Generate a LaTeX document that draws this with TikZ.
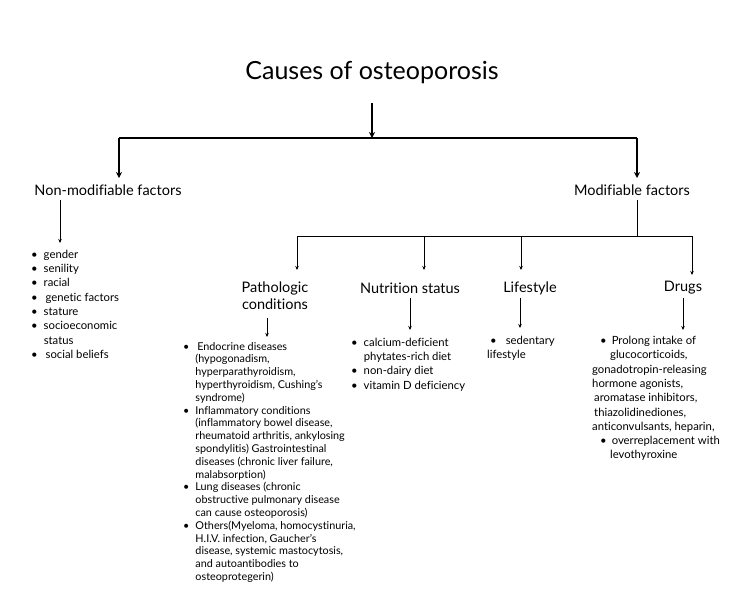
\documentclass[tikz,border=0pt]{standalone}
\usepackage{fontspec}
\setmainfont[Ligatures=NoCommon]{Lato}
\usetikzlibrary{arrows.meta}
\newcommand{\bl}{\textbullet}
\begin{document}
\begin{tikzpicture}[x=1pt,y=-1pt,
  thickarr/.style={line width=2.2pt,-{Stealth[length=6pt,width=6pt]}},
  thickln/.style={line width=2.2pt},
  thinarr/.style={line width=0.9pt,-{Stealth[length=4pt,width=3.5pt]}},
  thinln/.style={line width=0.9pt},
  hdr/.style={font=\fontsize{14.5}{17}\selectfont,inner sep=0pt},
  lst/.style={font=\fontsize{11.3}{14.3}\selectfont,inner sep=0pt,anchor=north west,align=left}]
\useasboundingbox (0,0) rectangle (750,600);
\fill[white] (0,0) rectangle (750,600);
\node[font=\fontsize{25}{30}\selectfont,inner sep=0pt] (title) at (372,73) {Causes of osteoporosis};
\coordinate (t1) at (372,103);
\coordinate (t2) at (372,138);
\coordinate (hl) at (119,138);
\coordinate (hr) at (637,138);
\draw[thickarr] (t1) -- (t2);
\draw[thickln] (hl) -- (hr);
\node[hdr] (nm) at (108,190) {Non-modifiable factors};
\node[hdr] (mf) at (632,190) {Modifiable factors};
\draw[thickarr] (hl) -- (119,178);
\draw[thickarr] (hr) -- (637,178);
\coordinate (nma) at (60,200);
\draw[thinarr] (nma) -- (60,243);
\node[lst] (nml) at (31,248) {\begin{tabular}{@{}l@{\hspace{6pt}}l@{}}\bl&gender\\\bl&senility\\\bl&racial\\\bl&\,genetic factors\\\bl&stature\\\bl&socioeconomic\\&status\\\bl&\,social beliefs\end{tabular}};
\coordinate (m1) at (637,200);
\coordinate (m2) at (637,236);
\coordinate (bl) at (297,236);
\coordinate (br) at (692,236);
\draw[thinln] (m1) -- (m2);
\draw[thinln] (bl) -- (br);
\draw[thinarr] (bl) -- (297,270);
\draw[thinarr] (424,236) -- (424,270);
\draw[thinarr] (521,236) -- (521,270);
\draw[thinarr] (br) -- (692,275);
\node[hdr,align=center] (pc) at (275,296) {Pathologic\\conditions};
\node[hdr] (ns) at (410,288) {Nutrition status};
\node[hdr] (ls) at (530,288) {Lifestyle};
\node[hdr] (dr) at (683,288) {Drugs};
\draw[thinarr] (267,318) -- (267,337);
\draw[thinarr] (410,298) -- (410,330);
\draw[thinarr] (520,298) -- (520,328);
\draw[thinarr] (683,298) -- (683,330);
\node[lst,font=\fontsize{10.8}{12.8}\selectfont] (pcl) at (183,341) {\begin{tabular}{@{}l@{\hspace{6pt}}l@{}}\bl&\,Endocrine diseases\\&(hypogonadism,\\&hyperparathyroidism,\\&hyperthyroidism, Cushing's\\&syndrome)\\\bl&Inflammatory conditions\\&(inflammatory bowel disease,\\&rheumatoid arthritis, ankylosing\\&spondylitis) Gastrointestinal\\&diseases (chronic liver failure,\\&malabsorption)\\\bl&Lung diseases (chronic\\&obstructive pulmonary disease\\&can cause osteoporosis)\\\bl&Others(Myeloma, homocystinuria,\\&H.I.V. infection, Gaucher's\\&disease, systemic mastocytosis,\\&and autoantibodies to\\&osteoprotegerin)\end{tabular}};
\node[lst] (nsl) at (351,336) {\begin{tabular}{@{}l@{\hspace{6pt}}l@{}}\bl&calcium-deficient\\&phytates-rich diet\\\bl&non-dairy diet\\\bl&vitamin D deficiency\end{tabular}};
\node[lst] (lsl) at (487,336) {\hspace{3pt}\bl\hspace{9pt}sedentary\\lifestyle};
\node[lst] (drl) at (592,336) {\hspace{8pt}\bl\hspace{5pt}Prolong intake of\\\hspace{18pt}glucocorticoids,\\gonadotropin-releasing\\hormone agonists,\\\hspace{2pt}aromatase inhibitors,\\\hspace{2pt}thiazolidinediones,\\anticonvulsants, heparin,\\\hspace{8pt}\bl\hspace{5pt}overreplacement with\\\hspace{18pt}levothyroxine};
\end{tikzpicture}
\end{document}
